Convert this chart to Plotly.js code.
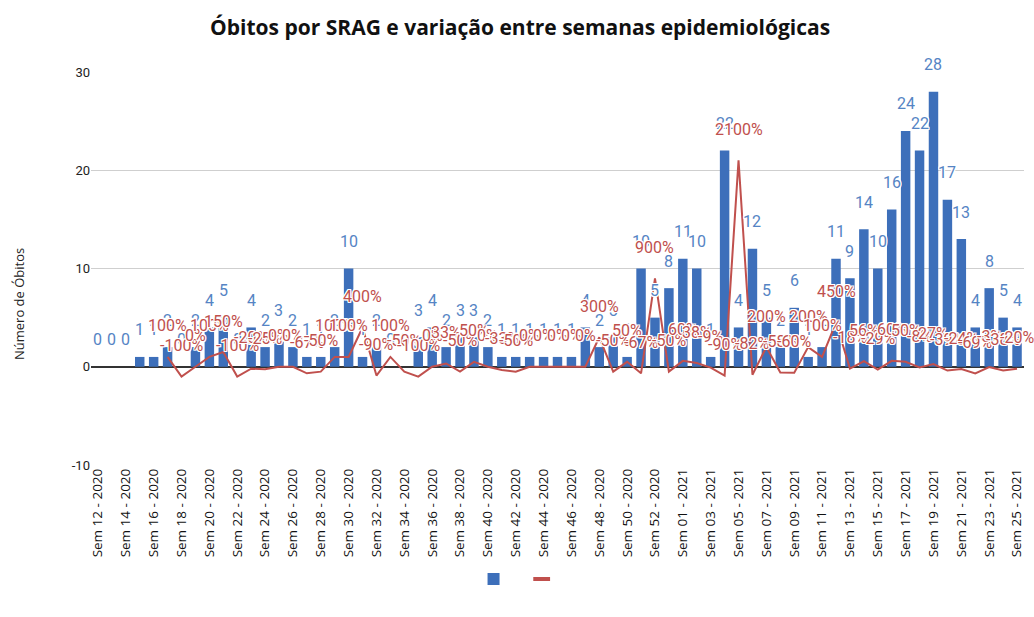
<!DOCTYPE html>
<html>
<head>
<meta charset="utf-8">
<script src="https://cdn.plot.ly/plotly-3.0.1.min.js"></script>
<style>html,body{margin:0;padding:0;background:#fff;}#chart{width:1034px;height:617px;}</style>
</head>
<body>
<div id="chart"></div>
<script>
// Categories (epidemiological weeks)
var weeks = [
  "Sem 12 - 2020","Sem 13 - 2020","Sem 14 - 2020","Sem 15 - 2020","Sem 16 - 2020","Sem 17 - 2020",
  "Sem 18 - 2020","Sem 19 - 2020","Sem 20 - 2020","Sem 21 - 2020","Sem 22 - 2020","Sem 23 - 2020",
  "Sem 24 - 2020","Sem 25 - 2020","Sem 26 - 2020","Sem 27 - 2020","Sem 28 - 2020","Sem 29 - 2020",
  "Sem 30 - 2020","Sem 31 - 2020","Sem 32 - 2020","Sem 33 - 2020","Sem 34 - 2020","Sem 35 - 2020",
  "Sem 36 - 2020","Sem 37 - 2020","Sem 38 - 2020","Sem 39 - 2020","Sem 40 - 2020","Sem 41 - 2020",
  "Sem 42 - 2020","Sem 43 - 2020","Sem 44 - 2020","Sem 45 - 2020","Sem 46 - 2020","Sem 47 - 2020",
  "Sem 48 - 2020","Sem 49 - 2020","Sem 50 - 2020","Sem 51 - 2020","Sem 52 - 2020","Sem 53 - 2020",
  "Sem 01 - 2021","Sem 02 - 2021","Sem 03 - 2021","Sem 04 - 2021","Sem 05 - 2021","Sem 06 - 2021",
  "Sem 07 - 2021","Sem 08 - 2021","Sem 09 - 2021","Sem 10 - 2021","Sem 11 - 2021","Sem 12 - 2021",
  "Sem 13 - 2021","Sem 14 - 2021","Sem 15 - 2021","Sem 16 - 2021","Sem 17 - 2021","Sem 18 - 2021",
  "Sem 19 - 2021","Sem 20 - 2021","Sem 21 - 2021","Sem 22 - 2021","Sem 23 - 2021","Sem 24 - 2021",
  "Sem 25 - 2021"
];

// Deaths per week (bars)
var obitos = [
  0,0,0,1,1,2,0,2,4,5,0,4,2,3,2,1,1,2,10,1,2,0,0,3,4,2,3,3,2,1,1,1,1,1,1,4,2,3,1,10,5,8,11,10,1,22,4,12,5,2,6,1,2,11,9,14,10,16,24,22,28,17,13,4,8,5,4
];

// Variation between weeks (line, as fraction: 1 = 100%)
var variacao = [
  null,null,null,null,null,1,-1,0,1,1.5,-1,-0.2,-0.25,0,0,-0.67,-0.5,1,1,4,-0.9,1,-0.5,-1,0,0.33,-0.5,0.5,0,-0.33,-0.5,0,0,0,0,0,3,-0.5,0.5,-0.67,9,-0.5,0.6,0.38,-0.09,-0.9,21,-0.82,2,-0.58,-0.6,2,1,4.5,-0.18,0.56,-0.29,0.6,0.5,-0.08,0.27,-0.39,-0.24,-0.69,-0.03,-0.38,-0.2
];

// Tick labels
var tickWeeks = weeks.filter(function(w, i){ return i % 2 === 0; });
var yTickVals = [-10, 0, 10, 20, 30];
var yTickText = ['-10', '0', '10', '20', '30'];

var barColor = '#3d6fba';
var barLabelColor = '#5584c4';
var lineColor = '#c0504d';

var halo = '1px 1px 0 #fff, -1px -1px 0 #fff, 1px -1px 0 #fff, -1px 1px 0 #fff, 0 1px 0 #fff, 0 -1px 0 #fff, 1px 0 0 #fff, -1px 0 0 #fff';

var annotations = [];
weeks.forEach(function(w, i){
  annotations.push({
    x: w, y: obitos[i], xref: 'x', yref: 'y', text: String(obitos[i]),
    showarrow: false, yshift: 27,
    font: {family: 'Roboto, sans-serif', size: 16, color: barLabelColor, shadow: halo}
  });
});
weeks.forEach(function(w, i){
  var v = variacao[i];
  if (v === null) return;
  annotations.push({
    x: w, y: v, xref: 'x', yref: 'y', text: Math.round(v * 100) + '%',
    showarrow: false, yshift: 31,
    font: {family: 'Roboto, sans-serif', size: 16, color: lineColor, shadow: halo}
  });
});
// y-axis title (centred on the whole figure height, as in the reference)
annotations.push({
  xref: 'paper', yref: 'paper', x: -0.077, y: 0.41, xanchor: 'center', yanchor: 'middle',
  text: 'Número de Óbitos', textangle: -90, showarrow: false,
  font: {family: '"Open Sans", sans-serif', size: 13, color: '#222'}
});

var traces = [
  {
    type: 'bar', x: weeks, y: obitos, name: ' ',
    marker: {color: barColor},
    hoverinfo: 'x+y'
  },
  {
    type: 'scatter', mode: 'lines', x: weeks, y: variacao, name: ' ',
    line: {color: lineColor, width: 2},
    connectgaps: false, showlegend: false
  },
  {
    // legend key for the line series (short thick dash, as in the reference)
    type: 'scatter', mode: 'markers', x: [null], y: [null], name: ' ',
    marker: {symbol: 'line-ew-open', size: 12, color: lineColor, line: {width: 4, color: lineColor}},
    showlegend: true
  }
];

var layout = {
  width: 1034, height: 617,
  margin: {l: 91, r: 10, t: 72, b: 152},
  paper_bgcolor: '#fff', plot_bgcolor: '#fff',
  title: {
    text: 'Óbitos por SRAG e variação entre semanas epidemiológicas',
    font: {family: '"Open Sans", sans-serif', size: 21, color: '#111', weight: 'bold'},
    x: 0.503, xanchor: 'center', y: 0.955, yanchor: 'middle'
  },
  bargap: 0.32,
  showlegend: true,
  legend: {
    orientation: 'h', x: 0.462, xanchor: 'center', y: -0.29, yanchor: 'middle',
    font: {size: 12}, itemwidth: 30, traceorder: 'normal'
  },
  xaxis: {
    type: 'category', range: [-0.5, weeks.length - 0.5],
    tickmode: 'array', tickvals: tickWeeks, ticktext: tickWeeks,
    tickangle: -90, ticks: '', showgrid: false, showline: false, zeroline: false,
    tickfont: {family: '"Open Sans", sans-serif', size: 13.5, color: '#111'}
  },
  yaxis: {
    range: [-10, 30], tickmode: 'array', tickvals: yTickVals, ticktext: yTickText, ticks: '',
    showgrid: true, gridcolor: '#cfcfcf', gridwidth: 1,
    zeroline: true, zerolinecolor: '#333', zerolinewidth: 1.5,
    showline: false,
    tickfont: {family: 'Roboto, sans-serif', size: 13, color: '#222'}
  },
  annotations: annotations
};

Plotly.newPlot('chart', traces, layout, {displayModeBar: false, staticPlot: true});
</script>
</body>
</html>
